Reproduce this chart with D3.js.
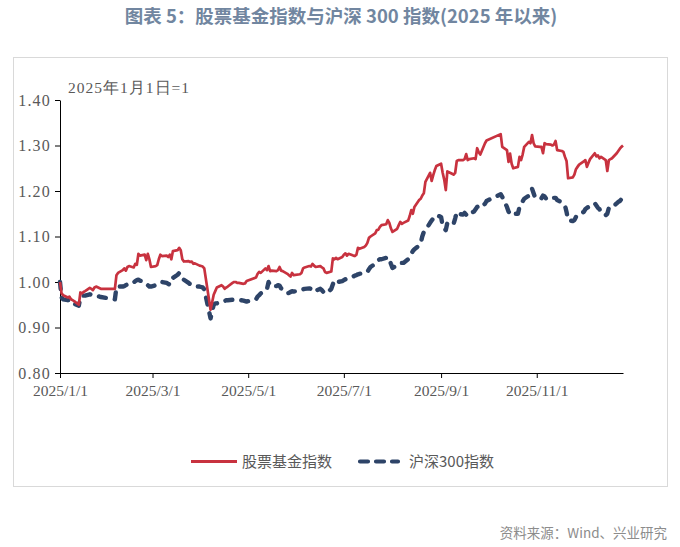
<!DOCTYPE html>
<html><head><meta charset="utf-8">
<script src="https://cdn.jsdelivr.net/npm/d3@7/dist/d3.min.js"></script>
<style>body{margin:0;background:#fff;} svg{display:block;}</style>
</head><body>
<svg id="c" width="680" height="547"></svg>
<script>
const year = "2025";
const dates = ["01-01","01-02","01-03","01-06","01-07","01-08","01-09","01-10","01-13","01-14","01-15","01-16","01-17","01-20","01-21","01-22","01-23","01-24","01-27",
"02-05","02-06","02-07","02-10","02-11","02-12","02-13","02-14","02-17","02-18","02-19","02-20","02-21","02-24","02-25","02-26","02-27","02-28",
"03-03","03-04","03-05","03-06","03-07","03-10","03-11","03-12","03-13","03-14","03-17","03-18","03-19","03-20","03-21","03-24","03-25","03-26","03-27","03-28","03-31",
"04-01","04-02","04-03","04-07","04-08","04-09","04-10","04-11","04-14","04-15","04-16","04-17","04-18","04-21","04-22","04-23","04-24","04-25","04-28","04-29","04-30",
"05-06","05-07","05-08","05-09","05-12","05-13","05-14","05-15","05-16","05-19","05-20","05-21","05-22","05-23","05-26","05-27","05-28","05-29","05-30",
"06-03","06-04","06-05","06-06","06-09","06-10","06-11","06-12","06-13","06-16","06-17","06-18","06-19","06-20","06-23","06-24","06-25","06-26","06-27","06-30",
"07-01","07-02","07-03","07-04","07-07","07-08","07-09","07-10","07-11","07-14","07-15","07-16","07-17","07-18","07-21","07-22","07-23","07-24","07-25","07-28","07-29","07-30","07-31",
"08-01","08-04","08-05","08-06","08-07","08-08","08-11","08-12","08-13","08-14","08-15","08-18","08-19","08-20","08-21","08-22","08-25","08-26","08-27","08-28","08-29",
"09-01","09-02","09-03","09-04","09-05","09-08","09-09","09-10","09-11","09-12","09-15","09-16","09-17","09-18","09-19","09-22","09-23","09-24","09-25","09-26","09-29","09-30",
"10-09","10-10","10-13","10-14","10-15","10-16","10-17","10-20","10-21","10-22","10-23","10-24","10-27","10-28","10-29","10-30","10-31",
"11-03","11-04","11-05","11-06","11-07","11-10","11-11","11-12","11-13","11-14","11-17","11-18","11-19","11-20","11-21","11-24","11-25","11-26","11-27","11-28",
"12-01","12-02","12-03","12-04","12-05","12-08","12-09","12-10","12-11","12-12","12-15","12-16","12-17","12-18","12-19","12-22","12-23","12-24","12-25","12-26"];
const stockFund = [1.000,0.975,0.971,0.966,0.968,0.962,0.960,0.958,0.950,0.977,0.975,0.978,0.980,0.987,0.985,0.982,0.988,0.990,0.985,
0.985,1.015,1.020,1.026,1.030,1.025,1.033,1.035,1.032,1.040,1.038,1.062,1.058,1.060,1.048,1.062,1.050,1.033,
1.035,1.037,1.050,1.060,1.057,1.058,1.055,1.060,1.050,1.068,1.070,1.075,1.070,1.050,1.045,1.046,1.044,1.045,1.040,1.041,1.036,
1.035,1.034,1.030,0.939,0.955,0.972,0.980,0.988,0.993,0.990,0.985,0.988,0.990,0.998,1.000,1.000,0.998,0.998,0.996,0.997,1.002,
1.010,1.018,1.022,1.020,1.030,1.026,1.035,1.024,1.025,1.024,1.026,1.033,1.025,1.024,1.018,1.015,1.012,1.020,1.015,
1.017,1.020,1.030,1.032,1.035,1.034,1.040,1.036,1.033,1.035,1.032,1.030,1.022,1.020,1.023,1.052,1.050,1.053,1.050,1.055,
1.060,1.063,1.058,1.062,1.058,1.057,1.060,1.075,1.073,1.077,1.080,1.086,1.097,1.100,1.107,1.114,1.115,1.121,1.125,1.127,1.136,1.130,1.118,
1.110,1.117,1.125,1.132,1.128,1.130,1.135,1.145,1.158,1.150,1.165,1.180,1.183,1.190,1.195,1.220,1.240,1.222,1.235,1.246,1.255,
1.260,1.240,1.225,1.202,1.243,1.238,1.236,1.240,1.266,1.268,1.268,1.270,1.281,1.268,1.270,1.272,1.270,1.294,1.285,1.280,1.305,1.311,
1.325,1.297,1.290,1.264,1.282,1.260,1.250,1.253,1.275,1.268,1.280,1.297,1.308,1.305,1.323,1.305,1.298,
1.297,1.297,1.283,1.305,1.303,1.302,1.300,1.302,1.310,1.290,1.288,1.286,1.275,1.266,1.228,1.230,1.236,1.248,1.253,1.258,
1.265,1.268,1.253,1.262,1.270,1.283,1.276,1.278,1.272,1.275,1.268,1.244,1.268,1.270,1.272,1.283,1.288,1.293,1.297,1.300];
const csi300 = [1.000,0.966,0.962,0.960,0.961,0.958,0.957,0.952,0.948,0.966,0.967,0.970,0.970,0.973,0.972,0.970,0.970,0.970,0.967,
0.962,0.989,0.990,0.990,0.991,0.993,0.995,0.998,0.999,1.002,1.004,1.005,1.003,1.000,0.996,0.993,0.990,0.990,
0.993,0.995,0.998,1.000,1.000,0.998,0.996,0.994,1.000,1.009,1.016,1.020,1.016,1.013,1.005,0.998,0.995,0.993,0.991,0.990,0.990,
0.989,0.988,0.984,0.920,0.935,0.950,0.953,0.953,0.957,0.958,0.958,0.960,0.960,0.961,0.961,0.961,0.961,0.961,0.959,0.958,0.957,
0.962,0.968,0.971,0.975,0.980,0.985,1.000,0.992,0.990,0.991,0.993,0.992,0.986,0.984,0.975,0.976,0.978,0.980,0.979,
0.981,0.983,0.984,0.985,0.986,0.985,0.986,0.980,0.981,0.985,0.982,0.978,0.975,0.975,0.985,0.995,1.004,1.002,1.000,1.002,
1.004,1.006,1.008,1.010,1.012,1.014,1.015,1.017,1.018,1.020,1.020,1.022,1.028,1.033,1.040,1.046,1.048,1.050,1.050,1.053,1.055,1.050,1.040,
1.031,1.036,1.040,1.041,1.042,1.042,1.050,1.055,1.062,1.068,1.072,1.080,1.085,1.100,1.110,1.114,1.130,1.135,1.140,1.145,1.147,
1.143,1.123,1.118,1.114,1.130,1.126,1.128,1.140,1.154,1.150,1.148,1.152,1.148,1.145,1.150,1.155,1.160,1.165,1.166,1.163,1.172,1.178,
1.193,1.187,1.165,1.155,1.150,1.147,1.150,1.150,1.165,1.170,1.177,1.183,1.190,1.195,1.205,1.195,1.185,
1.183,1.184,1.190,1.188,1.183,1.186,1.187,1.185,1.185,1.180,1.175,1.172,1.168,1.154,1.136,1.134,1.136,1.143,1.148,1.150,
1.154,1.160,1.163,1.165,1.168,1.173,1.168,1.163,1.160,1.152,1.147,1.150,1.163,1.163,1.163,1.173,1.176,1.178,1.182,1.185];
const yTicks = [0.80,0.90,1.00,1.10,1.20,1.30,1.40];
const xTickDates = ["01-01","03-01","05-01","07-01","09-01","11-01"];
const seriesNames = ["股票基金指数","沪深300指数"];
const titleText = "图表 5：股票基金指数与沪深 300 指数(2025 年以来)";
const noteText = "2025年1月1日=1";
const sourceText = "资料来源：Wind、兴业研究";

const parse = d3.timeParse("%Y-%m-%d");
const toDate = s => parse(year + "-" + s);
const svg = d3.select("#c");
const W = 680, H = 547;
const m = {l:60, r:57, t:100, b:174};
const x = d3.scaleTime().domain([toDate("01-01"), toDate(dates[dates.length-1])]).range([m.l, W - m.r]);
const y = d3.scaleLinear().domain([0.8, 1.4]).range([H - m.b, m.t]);

const red = "#C8323F", navy = "#2E4468", txt = "#595959";
const serif = "'Liberation Serif','Times New Roman',serif";
const cjk = "'Noto Sans CJK SC','Noto Sans',sans-serif";

// title
svg.append("text").attr("x", 341).attr("y", 23).attr("text-anchor","middle")
  .attr("font-family", cjk).attr("font-size", 18.5).attr("font-weight", "bold")
  .attr("fill", "#7186A0").text(titleText);

// chart frame
svg.append("rect").attr("x", 13.5).attr("y", 57.5).attr("width", 654).attr("height", 429)
  .attr("fill", "none").attr("stroke", "#d9d9d9").attr("stroke-width", 1);

// note
svg.append("text").attr("x", 68).attr("y", 93).attr("font-family", serif)
  .attr("font-size", 15.5).attr("fill", txt).attr("letter-spacing", 1).text(noteText);

// axes
const yAxis = d3.axisLeft(y).tickValues(yTicks).tickFormat(d3.format(".2f")).tickSize(5).tickSizeOuter(0);
const gy = svg.append("g").attr("transform", `translate(${m.l},0)`).call(yAxis);
gy.selectAll("path,line").attr("stroke", "#000");
gy.selectAll("text").attr("font-family", serif).attr("font-size", 16).attr("letter-spacing", 1.2)
  .attr("fill", txt).attr("x", -9);

const xAxis = d3.axisBottom(x).tickValues(xTickDates.map(toDate)).tickFormat(d3.timeFormat("%Y/%-m/%-d")).tickSize(5).tickSizeOuter(0);
const gx = svg.append("g").attr("transform", `translate(0,${H - m.b})`).call(xAxis);
gx.selectAll("path,line").attr("stroke", "#000");
gx.selectAll("text").attr("font-family", serif).attr("font-size", 15.5).attr("fill", txt).attr("dy", "0.95em");

// lines
const rows = dates.map((d, i) => ({d: toDate(d), a: stockFund[i], b: csi300[i]}));
const lineA = d3.line().x(r => x(r.d)).y(r => y(r.a));
const lineB = d3.line().x(r => x(r.d)).y(r => y(r.b));
svg.append("path").datum(rows).attr("d", lineB).attr("fill","none").attr("stroke", navy)
  .attr("stroke-width", 4.4).attr("stroke-dasharray", "7,9").attr("stroke-linecap","round").attr("stroke-linejoin","round");
svg.append("path").datum(rows).attr("d", lineA).attr("fill","none").attr("stroke", red)
  .attr("stroke-width", 2.7).attr("stroke-linejoin","round");

// legend
const ly = 461.5;
svg.append("line").attr("x1", 191).attr("x2", 237).attr("y1", ly).attr("y2", ly).attr("stroke", red).attr("stroke-width", 3);
svg.append("text").attr("x", 242).attr("y", ly + 5.5).attr("font-family", cjk).attr("font-size", 15).attr("fill", txt).text(seriesNames[0]);
svg.append("line").attr("x1", 360).attr("x2", 398).attr("y1", ly).attr("y2", ly).attr("stroke", navy).attr("stroke-width", 4.2)
  .attr("stroke-dasharray", "8,8").attr("stroke-linecap","round");
svg.append("text").attr("x", 409).attr("y", ly + 5.5).attr("font-family", cjk).attr("font-size", 15).attr("fill", txt).text(seriesNames[1]);

// source
svg.append("text").attr("x", 667).attr("y", 538).attr("text-anchor","end").attr("font-family", cjk)
  .attr("font-size", 13.5).attr("fill", "#8c8c8c").text(sourceText);
</script>
</body></html>
